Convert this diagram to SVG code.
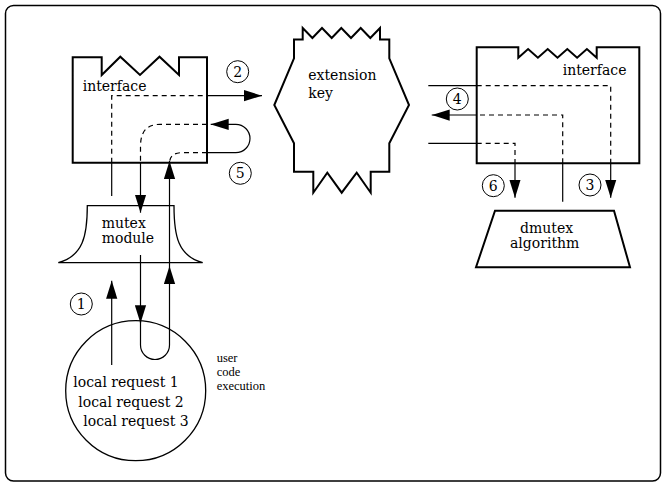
<svg xmlns="http://www.w3.org/2000/svg" width="666" height="487" viewBox="0 0 666 487">
<defs>
<marker id="ah" markerUnits="userSpaceOnUse" markerWidth="18" markerHeight="12" viewBox="0 0 16 10" refX="16" refY="5" orient="auto">
<path d="M0,0 L16,5 L0,10 Z" fill="#000"/>
</marker>
</defs>
<style>
.shape{fill:#fff;stroke:#000;stroke-width:2;stroke-linejoin:miter}
.thin{fill:#fff;stroke:#000;stroke-width:1.3}
.ln{fill:none;stroke:#000;stroke-width:1.2}
.dash{fill:none;stroke:#000;stroke-width:1.2;stroke-dasharray:5 4}
.t{font-family:"DejaVu Serif","Liberation Serif",serif;font-size:14px;fill:#000}
.s{font-family:"Liberation Serif",serif;font-size:12.5px;fill:#000}
.num{font-family:"DejaVu Serif","Liberation Serif",serif;font-size:14px;fill:#000;text-anchor:middle}
.circ{fill:#fff;stroke:#000;stroke-width:1}
</style>
<rect x="5.5" y="5.5" width="655" height="475.5" rx="8" fill="#fff" stroke="#000" stroke-width="1.5"/>

<g id="interface-left">
<path class="shape" d="M72.7,57.3 H101.7 V75 L120.3,56.7 L140,75 L159.5,56.7 L179,75 V57.3 H207 V162.7 H72.7 Z"/>
<text class="t" x="82.7" y="90.7">interface</text>
</g>

<g id="extension-key">
<path class="shape" d="M294,39.5 H302.7 V28 L312.4,38 L322,28 L331.7,38 L341.3,28 L351,38 L360.7,28 L370.3,38 L380,28 V39.5 H389.3 V58.3 L409,105 L389.3,143.3 V171.7 H370.7 V192.7 L356.7,172.7 L341.7,192.7 L327.3,172.7 L313.3,192.7 V171.7 H294 V143.3 L274.3,105 L294,58.3 Z"/>
<text class="t" x="308.3" y="80">extension</text>
<text class="t" x="308.3" y="98.3">key</text>
</g>

<g id="interface-right">
<path class="shape" d="M476.7,47.3 H518.3 V57.7 L528.1,49 L537.9,57.7 L547.7,49 L557.5,57.7 L567.3,49 L577.1,57.7 L586.9,49 L596.7,57.7 V47.3 H639.3 V163.3 H476.7 Z"/>
<text class="t" x="562.7" y="75">interface</text>
</g>

<g id="mutex-module">
<path class="thin" d="M87.3,205.7 H174 C174,236 178,256 202.7,262.7 H58.3 C83,256 87.3,236 87.3,205.7 Z"/>
<text class="t" x="101.7" y="228.3">mutex</text>
<text class="t" x="101.7" y="243.3">module</text>
</g>

<g id="dmutex-algorithm">
<path class="shape" d="M495,210.7 H614 L630,267.3 H476 Z"/>
<text class="t" x="520" y="232.7">dmutex</text>
<text class="t" x="510" y="248.3">algorithm</text>
</g>

<g id="user-process">
<circle class="thin" cx="135.7" cy="390.7" r="70"/>
<text class="t" x="73.3" y="386.7">local request 1</text>
<text class="t" x="78.3" y="407.3">local request 2</text>
<text class="t" x="83.3" y="426">local request 3</text>
</g>

<g id="user-code-label">
<text class="s" x="216.7" y="361.5">user</text>
<text class="s" x="216.7" y="375.5">code</text>
<text class="s" x="216.7" y="389.5">execution</text>
</g>

<g id="connectors">
<path class="dash" d="M111.7,162.7 V95.7 H207"/>
<path class="ln" d="M111.7,196 V162.7"/>
<path class="ln" d="M207,95.7 H262" marker-end="url(#ah)"/>
<path class="ln" d="M207,152.7 H235.8 A14.2,14.2 0 0 0 235.8,124.3 H210.7" marker-end="url(#ah)"/>
<path class="dash" d="M207,124.3 H160 C148,124.5 141,130 140.5,145 V162.7"/>
<path class="dash" d="M207,152.7 H181 C174,153 170,156 169.5,162.7"/>
<path class="ln" d="M140.5,162.7 V212.7" marker-end="url(#ah)"/>
<path class="ln" d="M140.5,255 V323.3" marker-end="url(#ah)"/>
<path class="ln" d="M140.5,320 V345 A14.5,14.5 0 0 0 169.5,345 V266" marker-end="url(#ah)"/>
<path class="ln" d="M169.5,266 V161" marker-end="url(#ah)"/>
<path class="ln" d="M111.7,365 V280.7" marker-end="url(#ah)"/>
<path class="ln" d="M428.3,85.7 H476.7"/>
<path class="dash" d="M476.7,85.7 H610.7 V163.3"/>
<path class="ln" d="M610.7,163.3 V197.7" marker-end="url(#ah)"/>
<path class="dash" d="M562.7,163.3 V115 H476.7"/>
<path class="ln" d="M562.7,163.3 V201.7"/>
<path class="ln" d="M476.7,115 H431.7" marker-end="url(#ah)"/>
<path class="ln" d="M428.3,143.3 H476.7"/>
<path class="dash" d="M476.7,143.3 H515 V163.3"/>
<path class="ln" d="M515,163.3 V197.7" marker-end="url(#ah)"/>
</g>

<g id="step-numbers">
<circle class="circ" cx="81.3" cy="304" r="11"/><text class="num" x="81.3" y="309">1</text>
<circle class="circ" cx="237.7" cy="71.7" r="11"/><text class="num" x="237.7" y="76.7">2</text>
<circle class="circ" cx="590" cy="185" r="11"/><text class="num" x="590" y="190">3</text>
<circle class="circ" cx="457.3" cy="99" r="11"/><text class="num" x="457.3" y="104">4</text>
<circle class="circ" cx="240.3" cy="173.3" r="11"/><text class="num" x="240.3" y="178.3">5</text>
<circle class="circ" cx="493.3" cy="185.7" r="11"/><text class="num" x="493.3" y="190.7">6</text>
</g>
</svg>
